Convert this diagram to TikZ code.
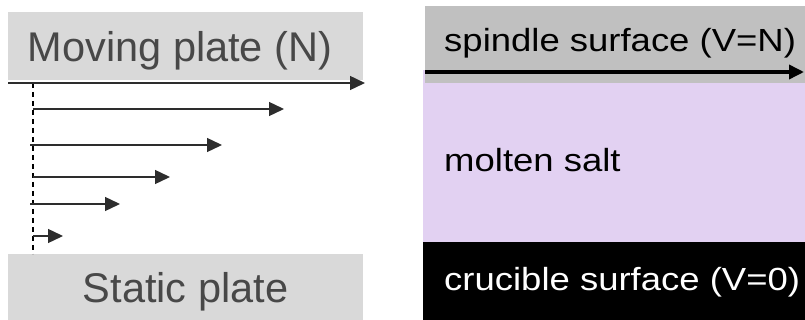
\documentclass[tikz,border=0pt]{standalone}
\usepackage{fontspec}
\setmainfont{Liberation Sans}
\usetikzlibrary{arrows.meta}
\definecolor{plategray}{RGB}{217,217,217}
\definecolor{platetext}{RGB}{72,72,72}
\definecolor{profilearrow}{RGB}{45,45,45}
\definecolor{spindlegray}{RGB}{192,192,192}
\definecolor{saltlilac}{RGB}{226,209,242}
\tikzset{
  plate/.style={fill=plategray, draw=none},
  platelabel/.style={text=platetext, inner sep=0pt, font=\fontsize{41.5}{48}\selectfont},
  velarrow/.style={draw=profilearrow, line width=1.4pt,
    -{Triangle[length=15pt,width=14pt]}},
  profileline/.style={draw=black, line width=1.2pt, dash pattern=on 5pt off 4pt},
  layerlabel/.style={inner sep=0pt, anchor=base west, xscale=1.14, transform shape,
    font=\fontsize{32}{38}\selectfont},
  spindlearrow/.style={draw=black, line width=3.5pt,
    -{Triangle[length=15pt,width=14pt]}}
}
\begin{document}
\begin{tikzpicture}[x=1pt,y=-1pt]
\useasboundingbox (0,0) rectangle (805,320);

% ---- Couette flow between two plates ----
\fill[plate] (8,12) rectangle (363,80);
\fill[plate] (8,254) rectangle (363,320);
\node[platelabel, anchor=base] (moving) at (180,62) {Moving plate (N)};
\node[platelabel, anchor=base] (static) at (185.5,302) {Static plate};

\coordinate (topL) at (8,83);
\coordinate (topR) at (365,83);
\coordinate (wallT) at (33,83);
\coordinate (wallB) at (33,254);
\draw[profileline] (wallT) -- (wallB);
\draw[velarrow] (topL) -- (topR);

\coordinate (v1a) at (33,109);  \coordinate (v1b) at (284,109);
\coordinate (v2a) at (30,145);  \coordinate (v2b) at (222,145);
\coordinate (v3a) at (33,177);  \coordinate (v3b) at (170,177);
\coordinate (v4a) at (30,204);  \coordinate (v4b) at (120,204);
\coordinate (v5a) at (33,236);  \coordinate (v5b) at (63,236);
\draw[velarrow] (v1a) -- (v1b);
\draw[velarrow] (v2a) -- (v2b);
\draw[velarrow] (v3a) -- (v3b);
\draw[velarrow] (v4a) -- (v4b);
\draw[velarrow] (v5a) -- (v5b);

% ---- Spindle / salt / crucible layers ----
\fill[saltlilac] (423,70) rectangle (805,242);
\fill[spindlegray] (425,6) rectangle (805,83);
\fill[black] (423,242) rectangle (805,320);

\coordinate (spL) at (425,72);
\coordinate (spR) at (804,72);
\draw[spindlearrow] (spL) -- (spR);

\node[layerlabel] (spindle) at (444,52) {spindle surface (V=N)};
\node[layerlabel] (salt) at (444,172) {molten salt};
\node[layerlabel, text=white] (crucible) at (444,290) {crucible surface (V=0)};
\end{tikzpicture}
\end{document}
